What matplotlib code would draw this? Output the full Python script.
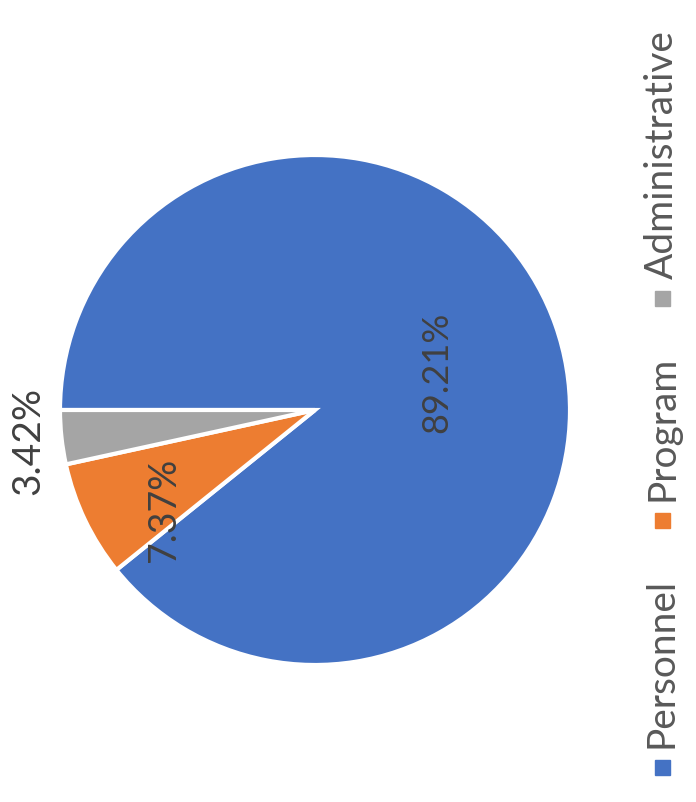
import numpy as np
import matplotlib.pyplot as plt
from matplotlib.patches import Rectangle

categories = ['Personnel', 'Program', 'Administrative']
shares     = [89.21, 7.37, 3.42]
colors     = ['#4472C4', '#ED7D31', '#A5A5A5']
pct_labels = ['89.21%', '7.37%', '3.42%']

# label placement: radius and angle nudge (deg) per slice
label_r     = [0.50, 0.71, 1.13]
label_shift = [-2, 8, 0]
label_size  = [26, 27, 28]

plt.rcParams['font.family'] = ['Lato', 'DejaVu Sans']

W, H = 696, 802
fig = plt.figure(figsize=(W/100, H/100), dpi=100)

# pie centre ~ (315, 410) px, radius ~255 px
cx, cy, R = 315, 410, 255
ax = fig.add_axes([(cx - R)/W, (H - cy - R)/H, 2*R/W, 2*R/H])
wedges, _ = ax.pie(shares, colors=colors, startangle=180, counterclock=False,
                   wedgeprops=dict(edgecolor='white', linewidth=3))
ax.set_xlim(-1, 1)
ax.set_ylim(-1, 1)
ax.set_aspect('equal')
ax.axis('off')

for w, lab, r, d, fs in zip(wedges, pct_labels, label_r, label_shift, label_size):
    mid = np.radians((w.theta1 + w.theta2)/2 + d)
    ax.text(r*np.cos(mid), r*np.sin(mid), lab, rotation=90, fontsize=fs,
            color='#404040', ha='center', va='center', clip_on=False)

# legend, rotated, stacked bottom to top
renderer = fig.canvas.get_renderer()
lx = 662
y = 775
sq = 15
for name, c in zip(categories, colors):
    fig.patches.append(Rectangle(((lx - sq/2)/W, (H - y)/H), sq/W, sq/H,
                                 color=c, transform=fig.transFigure))
    t = fig.text(lx/W, (H - y + sq + 12)/H, name, rotation=90, fontsize=28,
                 color='#595959', ha='center', va='bottom')
    ext = t.get_window_extent(renderer)
    y = y - sq - 12 - ext.height - 50

fig.savefig('out.png', dpi=100)
